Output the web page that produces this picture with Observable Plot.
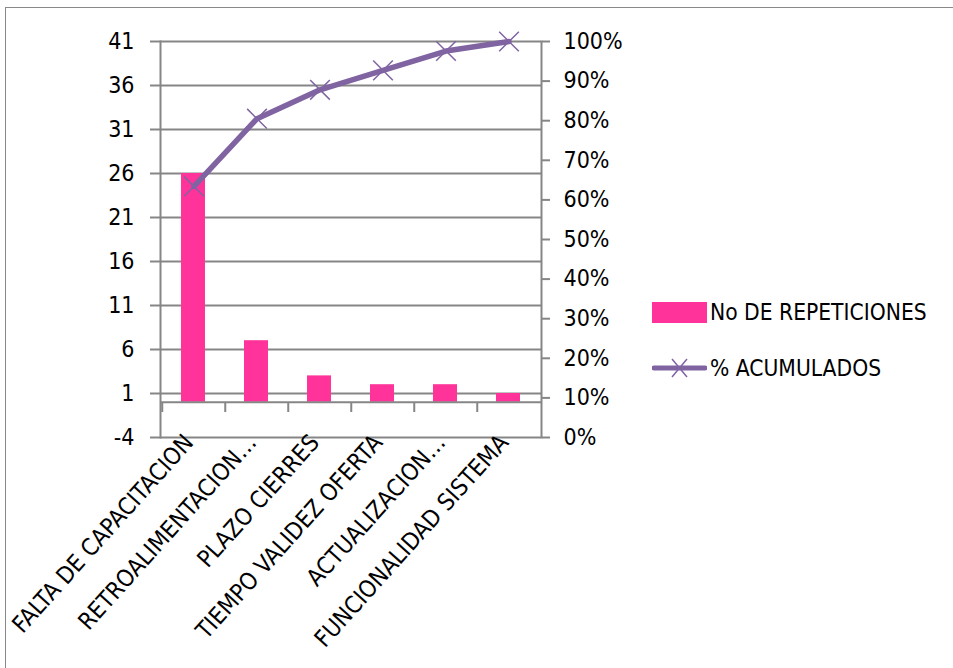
<!DOCTYPE html>
<html><head><meta charset="utf-8">
<script src="https://cdn.jsdelivr.net/npm/d3@7"></script>
<script src="https://cdn.jsdelivr.net/npm/@observablehq/plot@0.6"></script>
<style>
body{margin:0;background:#fff;font-family:"DejaVu Sans Condensed",sans-serif;}
#wrap{position:relative;width:953px;height:668px;overflow:hidden;background:#fff;}
#border{position:absolute;left:5px;top:7px;width:1000px;height:700px;border:1.5px solid #898989;box-sizing:border-box;}
#chart{position:absolute;left:0;top:0;}
#legend{position:absolute;left:652px;top:299px;font-size:22.6px;color:#000;}
.row{display:flex;align-items:center;height:26px;white-space:nowrap;}
.row svg{margin-right:3px;}
</style></head><body>
<div id="wrap"><div id="border"></div><div id="chart"></div>
<div id="legend">
 <div class="row"><svg width="55" height="22"><rect x="0" y="1" width="55" height="21" fill="#FF3399"/></svg><span>No DE REPETICIONES</span></div>
 <div class="row" style="margin-top:30px"><svg width="55" height="24"><line x1="2" y1="12" x2="53" y2="12" stroke="#8064A2" stroke-width="5" stroke-linecap="round"/><path d="M20,3L35,21M35,3L20,21" stroke="#8064A2" stroke-width="1.5"/></svg><span>% ACUMULADOS</span></div>
</div>
</div>
<script>
const categories = ["FALTA DE CAPACITACION","RETROALIMENTACION…","PLAZO CIERRES","TIEMPO VALIDEZ OFERTA","ACTUALIZACION…","FUNCIONALIDAD SISTEMA"];
const repetitions = [26, 7, 3, 2, 2, 1];
const cumulativePct = [63.4, 80.5, 87.8, 92.7, 97.6, 100];
const leftTicks = [-4, 1, 6, 11, 16, 21, 26, 31, 36, 41];
const pctTicks = [0, 10, 20, 30, 40, 50, 60, 70, 80, 90, 100];

const leftMin = -4, leftMax = 41;
const pctToY = p => leftMin + (leftMax - leftMin) * p / 100;
const yToPct = v => (v - leftMin) / (leftMax - leftMin) * 100;
const data = categories.map((c, i) => ({cat: c, n: repetitions[i], pct: cumulativePct[i]}));
const grid = "#868686";
const font = "'DejaVu Sans Condensed',sans-serif";
const W = 953, H = 668, mL = 160, mR = 412, mT = 41, mB = 231;
const band = (W - mL - mR) / categories.length;

const chart = Plot.plot({
  width: W, height: H, marginTop: mT, marginBottom: mB, marginLeft: mL, marginRight: mR,
  style: {fontFamily: font, background: "transparent", color: "#000", overflow: "visible"},
  x: {type: "band", domain: categories, padding: 0, label: null},
  y: {domain: [leftMin, leftMax], label: null},
  marks: [
    Plot.ruleY(leftTicks, {stroke: grid, strokeWidth: 2}),
    Plot.barY(data, {x: "cat", y: "n", fill: "#FF3399", insetLeft: 19, insetRight: 20}),
    Plot.ruleY([0], {stroke: grid, strokeWidth: 2}),
    Plot.frame({anchor: "left", stroke: grid, strokeWidth: 2}),
    Plot.frame({anchor: "right", stroke: grid, strokeWidth: 2}),
    Plot.axisY({anchor: "left", ticks: leftTicks, tickSize: 10, tickPadding: 16, fontSize: 23, stroke: grid, strokeWidth: 2, label: null, tickFormat: d => String(d)}),
    Plot.axisY({anchor: "right", ticks: pctTicks.map(pctToY), tickFormat: v => Math.round(yToPct(v)) + "%", tickSize: 8, tickPadding: 14, fontSize: 23, label: null, stroke: grid, strokeWidth: 2}),
    Plot.axisX({anchor: "bottom", tickSize: 9, tickFormat: () => "", dy: -34, dx: -band / 2, stroke: grid, strokeWidth: 2, label: null}),
    Plot.axisX({anchor: "bottom", tickSize: 0, tickRotate: -48, fontSize: 23.6, label: null, tickPadding: 2, dx: -5, dy: -1}),
    Plot.line(data, {x: "cat", y: d => pctToY(d.pct), stroke: "#8064A2", strokeWidth: 5.5}),
    Plot.dot(data, {x: "cat", y: d => pctToY(d.pct), symbol: "times", r: 9, stroke: "#8064A2", strokeWidth: 1.5})
  ]
});
document.getElementById("chart").appendChild(chart);
</script>
</body></html>
